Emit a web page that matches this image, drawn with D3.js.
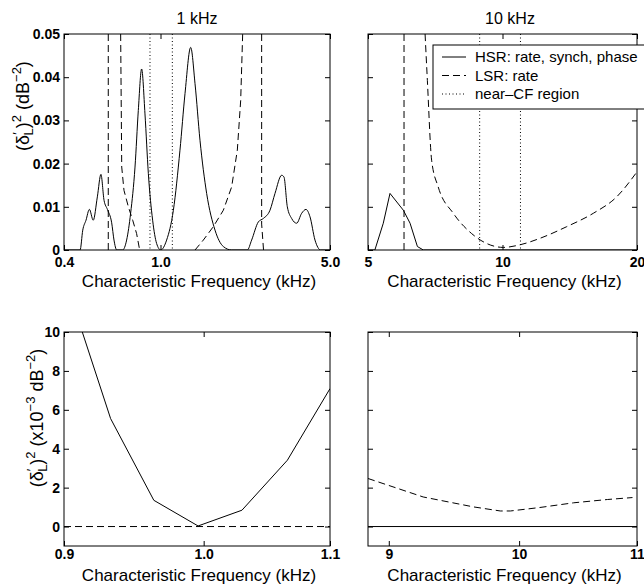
<!DOCTYPE html>
<html>
<head>
<meta charset="utf-8">
<script src="https://cdn.jsdelivr.net/npm/d3@7"></script>
<style>
  body { margin: 0; background: #fff; }
  svg { display: block; font-family: "Liberation Sans", Arial, Helvetica, sans-serif; }
  .tick text { font-size: 14px; font-weight: bold; fill: #000; }
  .tick line { stroke: #000; }
  .title { font-size: 16px; }
  .xlabel, .ylabel { font-size: 17px; }
  .legend text { font-size: 15px; }
</style>
</head>
<body>
<svg id="chart" width="644" height="586"></svg>
<script>
// ---- data: [CF in kHz, value] ----
// 1 kHz, wide CF range (dB^-2)
const hsr1k = [[0.4, 0], [0.466, 0], [0.478, 0.0046], [0.493, 0.0069], [0.509, 0.0094], [0.528, 0.0069],
  [0.549, 0.0123], [0.568, 0.0175], [0.585, 0.0115], [0.604, 0.0094], [0.629, 0.0063], [0.643, 0.0023],
  [0.660, 0], [0.698, 0], [0.725, 0.0023], [0.753, 0.0085], [0.785, 0.0192], [0.810, 0.0323],
  [0.836, 0.0419], [0.863, 0.0315], [0.891, 0.0177], [0.928, 0.0069], [0.964, 0.0015], [1.002, 0],
  [1.060, 0.0023], [1.130, 0.0092], [1.203, 0.0231], [1.262, 0.0362], [1.332, 0.0469], [1.388, 0.0385],
  [1.455, 0.0254], [1.550, 0.0131], [1.678, 0.0046], [1.816, 0.0008], [1.965, 0], [2.281, 0],
  [2.376, 0.0023], [2.532, 0.0065], [2.655, 0.0073], [2.828, 0.0092], [2.966, 0.0131], [3.160, 0.0173],
  [3.230, 0.0169], [3.334, 0.0100], [3.474, 0.0073], [3.643, 0.0062], [3.821, 0.0085], [3.981, 0.0094],
  [4.135, 0.0077], [4.336, 0.0023], [4.576, 0], [5.0, 0]];
const lsr1k = [
  [[0.609, 0.05], [0.609, 0]],
  [[0.685, 0.05], [0.692, 0.0192], [0.707, 0.0138], [0.737, 0.0100], [0.768, 0.0069], [0.797, 0.0038], [0.818, 0.0004]],
  [[1.388, 0], [1.502, 0.0023], [1.651, 0.0054], [1.816, 0.0092], [1.965, 0.0146], [2.074, 0.0231], [2.141, 0.0346], [2.182, 0.05]],
  [[2.613, 0.05], [2.613, 0.006], [2.66, 0]]
];
const nearCF1k = [0.905, 1.119];

// 10 kHz, wide CF range (dB^-2)
const hsr10k = [[5.0, 0], [5.18, 0], [5.41, 0.0062], [5.60, 0.0131], [6.00, 0.0092], [6.21, 0.0062],
  [6.45, 0.0008], [6.65, 0], [20, 0]];
const lsr10k = [
  [[6.02, 0.05], [6.02, 0]],
  [[6.71, 0.05], [6.79, 0.0392], [6.94, 0.0208], [7.18, 0.0146], [7.76, 0.0085], [8.53, 0.0038],
   [9.22, 0.0015], [10.04, 0.0006], [10.94, 0.0012], [12.13, 0.0027], [13.92, 0.0054], [15.97, 0.0085],
   [18.01, 0.0123], [20, 0.0181]]
];
const nearCF10k = [8.89, 10.97];

// near-CF zoom (x10^-3 dB^-2)
const hsrNear1k = [[0.9125, 10.0], [0.9322, 5.55], [0.9631, 1.35], [0.9958, 0.03], [1.0293, 0.84], [1.0652, 3.41], [1.1, 7.09]];
const lsrNear1k = [[0.9, 0], [1.1, 0]];
const hsrNear10k = [[8.85, 0], [11, 0]];
const lsrNear10k = [[8.85, 2.47], [9.254, 1.52], [9.638, 1.01], [9.849, 0.80], [9.93, 0.80], [10.17, 0.98],
  [10.45, 1.22], [10.74, 1.39], [10.96, 1.49]];

const xTicksTL = [0.4, 1.0, 5.0];
const xTicksTR = [5, 10, 20];
const xTicksBL = [0.9, 1.0, 1.1];
const xTicksBR = [9, 10, 11];
const yTicksTop = [0, 0.01, 0.02, 0.03, 0.04, 0.05];
const yTicksBottom = [0, 2, 4, 6, 8, 10];

const legendItems = ['HSR: rate, synch, phase', 'LSR: rate', 'near\u2013CF region'];

const DASH = '7,4';
const DOT = '1,2.5';

const svg = d3.select('#chart');
let clipId = 0;

function drawPanel(p) {
  const x = d3.scaleLog().domain(p.xDomain).range([p.x0, p.x1]);
  const y = d3.scaleLinear().domain(p.yDomain).range([p.y1, p.y0]);
  const g = svg.append('g');

  const id = 'clip' + (clipId++);
  svg.append('clipPath').attr('id', id)
    .append('rect')
    .attr('x', p.x0).attr('y', p.y0)
    .attr('width', p.x1 - p.x0).attr('height', p.y1 - p.y0);

  // axes, ticks pointing inward like the original
  g.append('g')
    .attr('transform', `translate(0,${p.y1})`)
    .call(d3.axisBottom(x).tickValues(p.xTicks).tickSize(-5).tickPadding(p.xPad)
      .tickFormat(p.xFmt))
    .call(a => a.select('.domain').remove());
  g.append('g')
    .attr('transform', `translate(0,${p.y0})`)
    .call(d3.axisTop(x).tickValues(p.xTicks).tickSize(-5).tickFormat(''))
    .call(a => a.select('.domain').remove());
  g.append('g')
    .attr('transform', `translate(${p.x0},0)`)
    .call(d3.axisLeft(y).tickValues(p.yTicks).tickSize(-5).tickPadding(4)
      .tickFormat(p.yFmt || ''))
    .call(a => a.select('.domain').remove());
  g.append('g')
    .attr('transform', `translate(${p.x1},0)`)
    .call(d3.axisRight(y).tickValues(p.yTicks).tickSize(-5).tickFormat(''))
    .call(a => a.select('.domain').remove());
  g.selectAll('.tick text').attr('font-family', null).attr('font-size', null);

  const plot = g.append('g').attr('clip-path', `url(#${id})`);
  const line = curve => d3.line().x(d => x(d[0])).y(d => y(d[1])).curve(curve);

  // near-CF region markers
  (p.nearCF || []).forEach(f => {
    plot.append('line')
      .attr('x1', x(f)).attr('x2', x(f))
      .attr('y1', p.y0).attr('y2', p.y1)
      .attr('stroke', '#000').attr('stroke-width', 1)
      .attr('stroke-dasharray', DOT);
  });

  p.lsr.forEach(seg => {
    plot.append('path').datum(seg)
      .attr('d', line(p.lsrCurve || d3.curveLinear))
      .attr('fill', 'none').attr('stroke', '#000').attr('stroke-width', 1)
      .attr('stroke-dasharray', DASH);
  });

  plot.append('path').datum(p.hsr)
    .attr('d', line(p.hsrCurve || d3.curveLinear))
    .attr('fill', 'none').attr('stroke', '#000').attr('stroke-width', 1);

  // frame
  g.append('rect')
    .attr('x', p.x0).attr('y', p.y0)
    .attr('width', p.x1 - p.x0).attr('height', p.y1 - p.y0)
    .attr('fill', 'none').attr('stroke', '#000').attr('stroke-width', 1);

  g.append('text')
    .attr('class', 'xlabel')
    .attr('x', (p.x0 + p.x1) / 2 + 2).attr('y', p.xLabelY)
    .attr('text-anchor', 'middle')
    .text('Characteristic Frequency (kHz)');

  if (p.title) {
    g.append('text')
      .attr('class', 'title')
      .attr('x', p.titleX).attr('y', 24)
      .attr('text-anchor', 'middle')
      .text(p.title);
  }
  return { x, y, g };
}

function yLabel(cx, cy, parts) {
  const t = svg.append('text')
    .attr('class', 'ylabel')
    .attr('transform', `translate(${cx},${cy}) rotate(-90)`)
    .attr('text-anchor', 'middle');
  parts.forEach(([s, dy, size, dx]) => {
    t.append('tspan').attr('dy', dy).attr('dx', dx || 0)
      .attr('font-size', size).text(s);
  });
}

const fmtTopY = d => d === 0 ? '0' : d3.format('.2f')(d);

drawPanel({
  x0: 64, x1: 330, y0: 34, y1: 250,
  xDomain: [0.4, 5.0], yDomain: [0, 0.05],
  xTicks: xTicksTL, yTicks: yTicksTop,
  xFmt: d3.format('.1f'), yFmt: fmtTopY, xPad: 7,
  hsr: hsr1k, hsrCurve: d3.curveMonotoneX, lsr: lsr1k, nearCF: nearCF1k,
  xLabelY: 287, title: '1 kHz', titleX: 197
});

drawPanel({
  x0: 368, x1: 637, y0: 34, y1: 250,
  xDomain: [5, 20], yDomain: [0, 0.05],
  xTicks: xTicksTR, yTicks: yTicksTop,
  xFmt: d3.format('d'), yFmt: null, xPad: 7,
  hsr: hsr10k, lsr: lsr10k, lsrCurve: d3.curveMonotoneX, nearCF: nearCF10k,
  xLabelY: 287, title: '10 kHz', titleX: 510
});

drawPanel({
  x0: 64, x1: 330, y0: 332, y1: 546,
  xDomain: [0.9, 1.1], yDomain: [-1, 10],
  xTicks: xTicksBL, yTicks: yTicksBottom,
  xFmt: d3.format('.1f'), yFmt: d3.format('d'), xPad: 3,
  hsr: hsrNear1k, lsr: [lsrNear1k],
  xLabelY: 581
});

drawPanel({
  x0: 368, x1: 637, y0: 332, y1: 546,
  xDomain: [8.85, 11], yDomain: [-1, 10],
  xTicks: xTicksBR, yTicks: yTicksBottom,
  xFmt: d3.format('d'), yFmt: null, xPad: 3,
  hsr: hsrNear10k, lsr: [lsrNear10k],
  xLabelY: 581
});

// y-axis titles: (delta'_L)^2 (...)
yLabel(29, 106, [['(\u03b4', 0, 18], ['\u2032', -7, 13, 0], ['L', 11, 13, -3], [')', -4, 18],
  ['2', -8, 13], [' (dB', 8, 18], ['\u22122', -8, 13], [')', 8, 18]]);
yLabel(43, 418, [['(\u03b4', 0, 18], ['\u2032', -7, 13, 0], ['L', 11, 13, -3], [')', -4, 18],
  ['2', -8, 13], [' (x10', 8, 18], ['\u22123', -8, 13], [' dB', 8, 18], ['\u22122', -8, 13], [')', 8, 18]]);

// legend box in the 10 kHz panel
const lg = svg.append('g').attr('class', 'legend');
lg.append('rect')
  .attr('x', 433).attr('y', 45).attr('width', 215).attr('height', 64)
  .attr('fill', '#fff').attr('stroke', '#000').attr('stroke-width', 1);
const dashes = [null, DASH, DOT];
legendItems.forEach((label, i) => {
  const yy = 57 + i * 18.5;
  lg.append('line')
    .attr('x1', 442).attr('x2', 466).attr('y1', yy).attr('y2', yy)
    .attr('stroke', '#000').attr('stroke-width', 1)
    .attr('stroke-dasharray', dashes[i]);
  lg.append('text')
    .attr('x', 475).attr('y', yy + 5)
    .text(label);
});
</script>
</body>
</html>
